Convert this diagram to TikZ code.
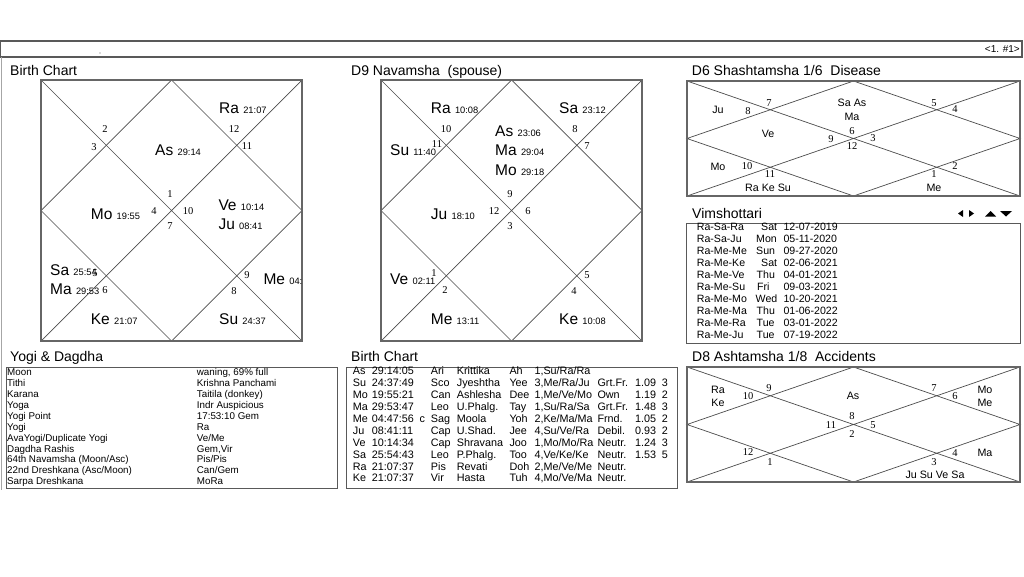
\documentclass[tikz,border=0pt]{standalone}
\usepackage{fontspec}
\setmainfont{Liberation Sans}
\newfontfamily\hnfont{Liberation Serif}
\newcommand\degs[1]{{\fontsize{9.3}{10}\selectfont #1}}
\newcommand\northgrid[4]{%
  \draw[cline] (#1,#2) -- (#3,#4) (#3,#2) -- (#1,#4);
  \draw[cline] ({(#1+#3)/2},#2) -- (#3,{(#2+#4)/2}) -- ({(#1+#3)/2},#4) -- (#1,{(#2+#4)/2}) -- cycle;
  \draw[cbox] (#1,#2) rectangle (#3,#4);}
\newcommand\trow[8]{%
  \node[tb] (t#1p) at (352.7,{374.8+(#1-1)*11.9}) {#2};
  \node[tb] (t#1t) at (371.7,{374.8+(#1-1)*11.9}) {#3};
  \node[tb] (t#1s) at (430.7,{374.8+(#1-1)*11.9}) {#4};
  \node[tb] (t#1n) at (456.7,{374.8+(#1-1)*11.9}) {#5};
  \node[tb] (t#1y) at (509.3,{374.8+(#1-1)*11.9}) {#6};
  \node[tb] (t#1a) at (534.3,{374.8+(#1-1)*11.9}) {#7};
  \node[tb] (t#1d) at (597.3,{374.8+(#1-1)*11.9}) {#8};}
\newcommand\tnum[3]{%
  \node[tb] (t#1v) at (635,{374.8+(#1-1)*11.9}) {#2};
  \node[tb] (t#1l) at (661.7,{374.8+(#1-1)*11.9}) {#3};}
\newcommand\vrow[5]{%
  \node[vt] (v#1n) at (696.7,{230.7+(#1-1)*11.96}) {#2};
  \node[vt] (v#1d) at (#5,{230.7+(#1-1)*11.96}) {#3};
  \node[vt] (v#1t) at (783.3,{230.7+(#1-1)*11.96}) {#4};}
\newcommand\yrow[3]{%
  \node[yt] (y#1a) at (7,{375.7+(#1-1)*10.9}) {#2};
  \node[yt] (y#1b) at (196.7,{375.7+(#1-1)*10.9}) {#3};}
\begin{document}
\begin{tikzpicture}[x=1pt,y=-1pt,
  ttl/.style={anchor=base west,inner sep=0,font=\fontsize{14}{16}\selectfont},
  pl/.style={anchor=base west,inner sep=0,font=\fontsize{15.5}{17}\selectfont},
  hn/.style={inner sep=0,font=\hnfont\fontsize{10.5}{12}\selectfont},
  sp/.style={inner sep=0,font=\fontsize{10.7}{12}\selectfont},
  tb/.style={anchor=base west,inner sep=0,font=\fontsize{10.8}{13}\selectfont},
  yt/.style={anchor=base west,inner sep=0,font=\fontsize{9.8}{11}\selectfont},
  vt/.style={anchor=base west,inner sep=0,font=\fontsize{10.6}{12}\selectfont},
  cline/.style={draw=black!70,line width=0.7pt},
  cbox/.style={draw=black!60,line width=2pt},
  fbox/.style={draw=black!65,line width=1pt}]
\useasboundingbox (0,0) rectangle (1024,576);
\fill[white] (0,0) rectangle (1024,576);

% top bar
\draw[black!65,line width=1.4pt] (0.7,41) rectangle (1022,57);
\node[anchor=base east,inner sep=0,font=\fontsize{10}{12}\selectfont] (pg) at (1020,52.5) {<1. \#1>};
\fill[black!60] (100,53) circle (0.6);
\draw[black!35,line width=0.8pt] (1,57) -- (1,490);

% titles
\node[ttl] (t1) at (10,75) {Birth Chart};
\node[ttl] (t2) at (351,75) {D9 Navamsha\ \ (spouse)};
\node[ttl] (t3) at (691.7,75) {D6 Shashtamsha 1/6\ \ Disease};
\node[ttl] (t4) at (692,218.3) {Vimshottari};
\node[ttl] (t5) at (10,361) {Yogi \& Dagdha};
\node[ttl] (t6) at (351,361) {Birth Chart};
\node[ttl] (t7) at (692,361) {D8 Ashtamsha 1/8\ \ Accidents};

% ---------- Birth chart ----------
\northgrid{41}{80}{302}{341}
\begin{scope}
\clip (41,80) rectangle (301,341);
\node[pl] (bra) at (219,113.3) {Ra \degs{21:07}};
\node[pl] (bas) at (155,155.7) {As \degs{29:14}};
\node[pl] (bmo) at (90.7,219.3) {Mo \degs{19:55}};
\node[pl] (bve) at (218.3,210) {Ve \degs{10:14}};
\node[pl] (bju) at (218.3,229.3) {Ju \degs{08:41}};
\node[pl] (bsa) at (50,275) {Sa \degs{25:54}};
\node[pl] (bma) at (50,294.3) {Ma \degs{29:53}};
\node[pl] (bke) at (90.7,324.3) {Ke \degs{21:07}};
\node[pl] (bsu) at (219,324.3) {Su \degs{24:37}};
\node[pl] (bme) at (263.3,284.3) {Me \degs{04:}};
\end{scope}
\node[hn] (bh2) at (105,129) {2};
\node[hn] (bh3) at (94,147) {3};
\node[hn] (bh12) at (234,129) {12};
\node[hn] (bh11) at (247,146) {11};
\node[hn] (bh1) at (170,194) {1};
\node[hn] (bh4) at (154,211) {4};
\node[hn] (bh10) at (188,211) {10};
\node[hn] (bh7) at (170,226) {7};
\node[hn] (bh5) at (95,273.5) {5};
\node[hn] (bh6) at (105,290) {6};
\node[hn] (bh9) at (247,275) {9};
\node[hn] (bh8) at (234,291) {8};

% ---------- D9 ----------
\northgrid{381}{80}{642}{341}
\node[pl] (nra) at (430.7,113.3) {Ra \degs{10:08}};
\node[pl] (nsa) at (559,113.3) {Sa \degs{23:12}};
\node[pl] (nsu) at (390,155) {Su \degs{11:40}};
\node[pl] (nas) at (495,136) {As \degs{23:06}};
\node[pl] (nma) at (495,155.7) {Ma \degs{29:04}};
\node[pl] (nmo) at (495,175) {Mo \degs{29:18}};
\node[pl] (nju) at (430.7,219.3) {Ju \degs{18:10}};
\node[pl] (nve) at (390,284.3) {Ve \degs{02:11}};
\node[pl] (nme) at (430.7,324.3) {Me \degs{13:11}};
\node[pl] (nke) at (559,324.3) {Ke \degs{10:08}};
\node[hn] (nh10) at (446,129) {10};
\node[hn] (nh11) at (437,144.5) {11};
\node[hn] (nh8) at (575,129) {8};
\node[hn] (nh7) at (587,146) {7};
\node[hn] (nh9) at (510,194) {9};
\node[hn] (nh12) at (494,211) {12};
\node[hn] (nh6) at (528,211) {6};
\node[hn] (nh3) at (510,226) {3};
\node[hn] (nh1) at (434,273) {1};
\node[hn] (nh2) at (445,290) {2};
\node[hn] (nh5) at (587,275) {5};
\node[hn] (nh4) at (574,291) {4};

% ---------- D6 ----------
\northgrid{687}{81}{1020}{196}
\node[sp] (sju) at (718,110) {Ju};
\node[sp] (ssaas) at (852,103) {Sa As};
\node[sp] (sma) at (852,117) {Ma};
\node[sp] (sve) at (768,134) {Ve};
\node[sp] (smo) at (718,167) {Mo};
\node[sp] (srks) at (768,188) {Ra Ke Su};
\node[sp] (sme) at (934,188) {Me};
\node[hn] (sh8) at (748,111) {8};
\node[hn] (sh7) at (769,103) {7};
\node[hn] (sh5) at (934,103) {5};
\node[hn] (sh4) at (955,109) {4};
\node[hn] (sh9) at (831,139) {9};
\node[hn] (sh6) at (852,131) {6};
\node[hn] (sh3) at (873,138) {3};
\node[hn] (sh12) at (852,146) {12};
\node[hn] (sh10) at (747,166) {10};
\node[hn] (sh11) at (770,174) {11};
\node[hn] (sh2) at (955,166) {2};
\node[hn] (sh1) at (934,174) {1};

% ---------- D8 ----------
\northgrid{687}{367}{1020}{482}
\node[sp] (ara) at (718,390) {Ra};
\node[sp] (ake) at (718,403) {Ke};
\node[sp] (aas) at (853,396) {As};
\node[sp] (amo) at (985,390) {Mo};
\node[sp] (ame) at (985,403) {Me};
\node[sp] (ama) at (985,453) {Ma};
\node[sp] (ajs) at (935,475) {Ju Su Ve Sa};
\node[hn] (ah10) at (748,396) {10};
\node[hn] (ah9) at (769,388) {9};
\node[hn] (ah7) at (934,388) {7};
\node[hn] (ah6) at (955,396) {6};
\node[hn] (ah8) at (852,416) {8};
\node[hn] (ah11) at (831,425) {11};
\node[hn] (ah5) at (873,425) {5};
\node[hn] (ah2) at (852,434) {2};
\node[hn] (ah12) at (748,452) {12};
\node[hn] (ah1) at (770,462) {1};
\node[hn] (ah4) at (955,453) {4};
\node[hn] (ah3) at (934,462) {3};

% ---------- Vimshottari ----------
\fill[black] (958,213.5) -- (963,210) -- (963,217) -- cycle;
\fill[black] (969,210) -- (974,213.5) -- (969,217) -- cycle;
\fill[black] (985,216.5) -- (996,216.5) -- (990.5,211) -- cycle;
\fill[black] (1000,211) -- (1012,211) -- (1006,216.5) -- cycle;
\draw[fbox] (686,223) rectangle (1020,343);
\vrow{1}{Ra-Sa-Ra}{Sat}{12-07-2019}{761}
\vrow{2}{Ra-Sa-Ju}{Mon}{05-11-2020}{756}
\vrow{3}{Ra-Me-Me}{Sun}{09-27-2020}{756}
\vrow{4}{Ra-Me-Ke}{Sat}{02-06-2021}{761}
\vrow{5}{Ra-Me-Ve}{Thu}{04-01-2021}{756.5}
\vrow{6}{Ra-Me-Su}{Fri}{09-03-2021}{757}
\vrow{7}{Ra-Me-Mo}{Wed}{10-20-2021}{755.5}
\vrow{8}{Ra-Me-Ma}{Thu}{01-06-2022}{756.5}
\vrow{9}{Ra-Me-Ra}{Tue}{03-01-2022}{756.5}
\vrow{10}{Ra-Me-Ju}{Tue}{07-19-2022}{756.5}

% ---------- Yogi & Dagdha ----------
\draw[fbox] (6,367) rectangle (337,488);
\yrow{1}{Moon}{waning, 69\% full}
\yrow{2}{Tithi}{Krishna Panchami}
\yrow{3}{Karana}{Taitila (donkey)}
\yrow{4}{Yoga}{Indr Auspicious}
\yrow{5}{Yogi Point}{17:53:10 Gem}
\yrow{6}{Yogi}{Ra}
\yrow{7}{AvaYogi/Duplicate Yogi}{Ve/Me}
\yrow{8}{Dagdha Rashis}{Gem,Vir}
\yrow{9}{64th Navamsha (Moon/Asc)}{Pis/Pis}
\yrow{10}{22nd Dreshkana (Asc/Moon)}{Can/Gem}
\yrow{11}{Sarpa Dreshkana}{MoRa}

% ---------- Birth chart table ----------
\draw[fbox] (346,367) rectangle (677,488);
\trow{1}{As}{29:14:05}{Ari}{Krittika}{Ah}{1,Su/Ra/Ra}{}
\trow{2}{Su}{24:37:49}{Sco}{Jyeshtha}{Yee}{3,Me/Ra/Ju}{Grt.Fr.}
\trow{3}{Mo}{19:55:21}{Can}{Ashlesha}{Dee}{1,Me/Ve/Mo}{Own}
\trow{4}{Ma}{29:53:47}{Leo}{U.Phalg.}{Tay}{1,Su/Ra/Sa}{Grt.Fr.}
\trow{5}{Me}{04:47:56}{Sag}{Moola}{Yoh}{2,Ke/Ma/Ma}{Frnd.}
\trow{6}{Ju}{08:41:11}{Cap}{U.Shad.}{Jee}{4,Su/Ve/Ra}{Debil.}
\trow{7}{Ve}{10:14:34}{Cap}{Shravana}{Joo}{1,Mo/Mo/Ra}{Neutr.}
\trow{8}{Sa}{25:54:43}{Leo}{P.Phalg.}{Too}{4,Ve/Ke/Ke}{Neutr.}
\trow{9}{Ra}{21:07:37}{Pis}{Revati}{Doh}{2,Me/Ve/Me}{Neutr.}
\trow{10}{Ke}{21:07:37}{Vir}{Hasta}{Tuh}{4,Mo/Ve/Ma}{Neutr.}
\node[tb] (t5c) at (419.3,{374.8+4*11.9}) {c};
\tnum{2}{1.09}{3}
\tnum{3}{1.19}{2}
\tnum{4}{1.48}{3}
\tnum{5}{1.05}{2}
\tnum{6}{0.93}{2}
\tnum{7}{1.24}{3}
\tnum{8}{1.53}{5}
\end{tikzpicture}
\end{document}
